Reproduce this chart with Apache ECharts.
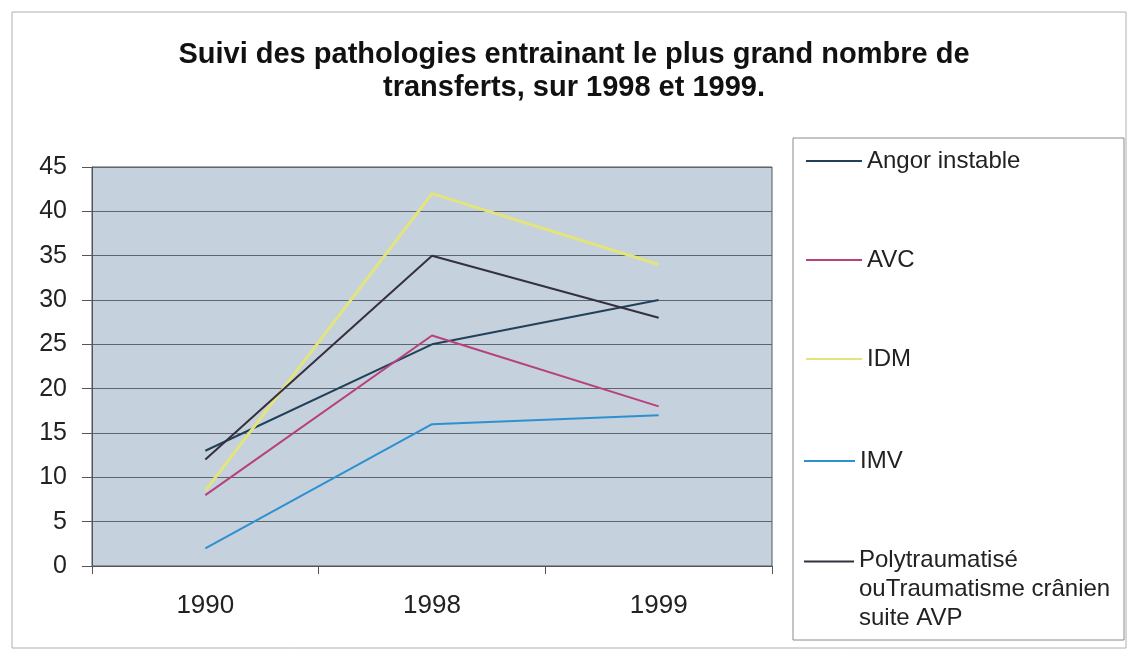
<!DOCTYPE html>
<html>
<head>
<meta charset="utf-8">
<script src="https://cdn.jsdelivr.net/npm/echarts@6/dist/echarts.min.js"></script>
<style>
  html, body { margin: 0; padding: 0; background: #fff; }
  #chart { width: 1130px; height: 652px; }
</style>
</head>
<body>
<div id="chart"></div>
<script>
// données
const years = ['1990', '1998', '1999'];
const angor = [13, 25, 30];
const avc = [8, 26, 18];
const idm = [8.5, 42, 34];
const imv = [2, 16, 17];
const polytrauma = [12, 35, 28];

const seriesNames = [
  'Angor instable',
  'AVC',
  'IDM',
  'IMV',
  'Polytraumatisé\nouTraumatisme crânien\nsuite AVP'
];
const seriesColors = ['#22405a', '#b8407c', '#e4e47c', '#2e90d0', '#36303e'];
const seriesData = [angor, avc, idm, imv, polytrauma];

const font = 'Liberation Sans, Arial, sans-serif';
const legendText = { fontFamily: font, fontSize: 24, color: '#222' };

const myChart = echarts.init(document.getElementById('chart'));

const option = {
  backgroundColor: '#fff',
  animation: false,
  title: {
    text: 'Suivi des pathologies entrainant le plus grand nombre de\ntransferts, sur 1998 et 1999.',
    // ancre centrée un peu à droite du milieu, comme dans l'original
    left: 569,
    top: 33,
    textAlign: 'center',
    textStyle: {
      fontFamily: font,
      fontSize: 29,
      fontWeight: 'bold',
      color: '#111',
      lineHeight: 33
    }
  },
  graphic: [
    // cadre extérieur
    {
      type: 'rect', z: -1,
      shape: { x: 12, y: 12, width: 1114, height: 636 },
      style: { fill: 'none', stroke: '#b0b0b0', lineWidth: 1 }
    },
    // cadre de la légende
    {
      type: 'rect', z: -1,
      shape: { x: 793, y: 138, width: 331, height: 502 },
      style: { fill: '#fff', stroke: '#8a8a8a', lineWidth: 1 }
    }
  ],
  legend: [
    {
      orient: 'vertical',
      left: 806,
      top: 149,
      padding: 0,
      icon: 'rect',
      itemWidth: 56,
      itemHeight: 2,
      itemGap: 75,
      data: seriesNames.slice(0, 3),
      textStyle: legendText
    },
    {
      orient: 'vertical',
      left: 804,
      top: 449,
      padding: 0,
      icon: 'rect',
      itemWidth: 51,
      itemHeight: 2,
      data: [seriesNames[3]],
      textStyle: legendText
    },
    {
      // trait aligné sur la première ligne du libellé
      orient: 'vertical',
      left: 804,
      top: 546,
      padding: 0,
      icon: 'path://M0,0L50,0L50,2L0,2ZM0,58L0.01,58L0,57.99Z',
      itemWidth: 50,
      itemHeight: 58,
      data: [seriesNames[4]],
      textStyle: Object.assign({ lineHeight: 29 }, legendText)
    }
  ],
  grid: {
    left: 92,
    right: 358,
    top: 167,
    bottom: 86,
    show: true,
    backgroundColor: '#c5d1dc',
    borderColor: '#555',
    borderWidth: 1
  },
  xAxis: {
    type: 'category',
    data: years,
    boundaryGap: true,
    axisLine: { lineStyle: { color: '#555' } },
    axisTick: { show: true, length: 8, lineStyle: { color: '#555' } },
    axisLabel: { fontFamily: font, fontSize: 26, color: '#222', margin: 27 }
  },
  yAxis: {
    type: 'value',
    min: 0,
    max: 45,
    interval: 5,
    axisLine: { show: true, lineStyle: { color: '#555' } },
    axisTick: { show: true, length: 10, lineStyle: { color: '#555' } },
    axisLabel: { fontFamily: font, fontSize: 25, color: '#222', margin: 25 },
    splitLine: { lineStyle: { color: '#5c6670', width: 1 } }
  },
  series: seriesNames.map((name, i) => ({
    name: name,
    type: 'line',
    data: seriesData[i],
    symbol: 'none',
    color: seriesColors[i],
    lineStyle: { width: i === 2 ? 3 : 2, color: seriesColors[i] }
  }))
};

myChart.setOption(option);
</script>
</body>
</html>
